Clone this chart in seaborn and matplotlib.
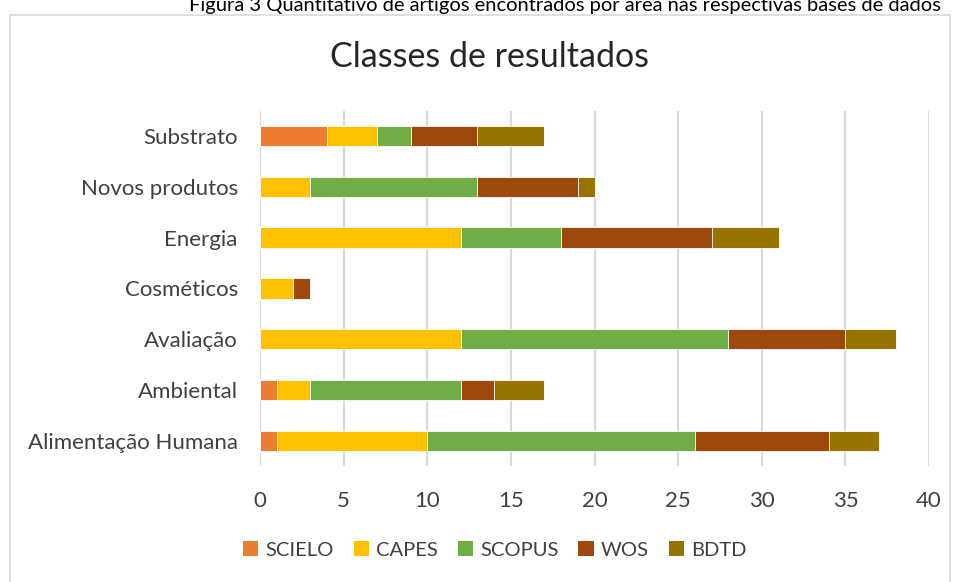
import matplotlib
matplotlib.use("Agg")
import matplotlib.pyplot as plt
from matplotlib.patches import Patch, Rectangle
import seaborn as sns
import pandas as pd
import numpy as np

categories = ["Substrato", "Novos produtos", "Energia", "Cosméticos",
              "Avaliação", "Ambiental", "Alimentação Humana"]
series_names = ["SCIELO", "CAPES", "SCOPUS", "WOS", "BDTD"]
scielo = [4, 0, 0, 0, 0, 1, 1]
capes = [3, 3, 12, 2, 12, 2, 9]
scopus = [2, 10, 6, 0, 16, 9, 16]
wos = [4, 6, 9, 1, 7, 2, 8]
bdtd = [4, 1, 4, 0, 3, 3, 3]
colors = ["#ED7D31", "#FFC000", "#70AD47", "#9E480E", "#997300"]
x_ticks = [0, 5, 10, 15, 20, 25, 30, 35, 40]

sns.set_theme(style="white")
plt.rcParams["font.family"] = ["Lato", "DejaVu Sans"]

fig = plt.figure(figsize=(9.55, 5.82), dpi=100)
ax = fig.add_axes([0.2723, 0.199, 0.7005, 0.611])

vals = np.array([scielo, capes, scopus, wos, bdtd], dtype=float)
cum = np.cumsum(vals, axis=0)

for i in range(len(series_names) - 1, -1, -1):
    df = pd.DataFrame({"cat": categories, "val": cum[i]})
    sns.barplot(data=df, x="val", y="cat", order=categories, color=colors[i],
                saturation=1, width=0.4, ax=ax, edgecolor="white", linewidth=0.6,
                zorder=3)

ax.set_xlim(0, 40)
ax.set_xticks(x_ticks)
ax.set_xticklabels([str(t) for t in x_ticks])
ax.set_xlabel("")
ax.set_ylabel("")
ax.grid(axis="x", color="#d9d9d9", linewidth=1.5, zorder=0)
ax.set_axisbelow(True)
for s in ax.spines.values():
    s.set_visible(False)
ax.tick_params(axis="both", length=0, labelsize=16, colors="#404040")
ax.tick_params(axis="y", pad=16)
ax.tick_params(axis="x", pad=18)

fig.text(0.513, 0.902, "Classes de resultados", ha="center", va="center",
         fontsize=24.5, color="#262626")

fig.text(0.592, 0.990, "Figura 3 Quantitativo de artigos encontrados por área nas respectivas bases de dados",
         ha="center", va="center", fontsize=14.5, color="#000000")

handles = [Patch(facecolor=c, edgecolor="none", label=n) for c, n in zip(colors, series_names)]
fig.legend(handles=handles, loc="center", bbox_to_anchor=(0.518, 0.055), ncol=5,
           frameon=False, fontsize=14.5, handlelength=0.75, handleheight=0.75,
           handletextpad=0.35, columnspacing=1.0, labelcolor="#404040")

fig.patches.append(Rectangle((10 / 955, -0.01), 940 / 955, 1 - 15 / 582 + 0.01,
                             transform=fig.transFigure, fill=False,
                             edgecolor="#d9d9d9", linewidth=1.2))

fig.savefig("out.png", dpi=100)
